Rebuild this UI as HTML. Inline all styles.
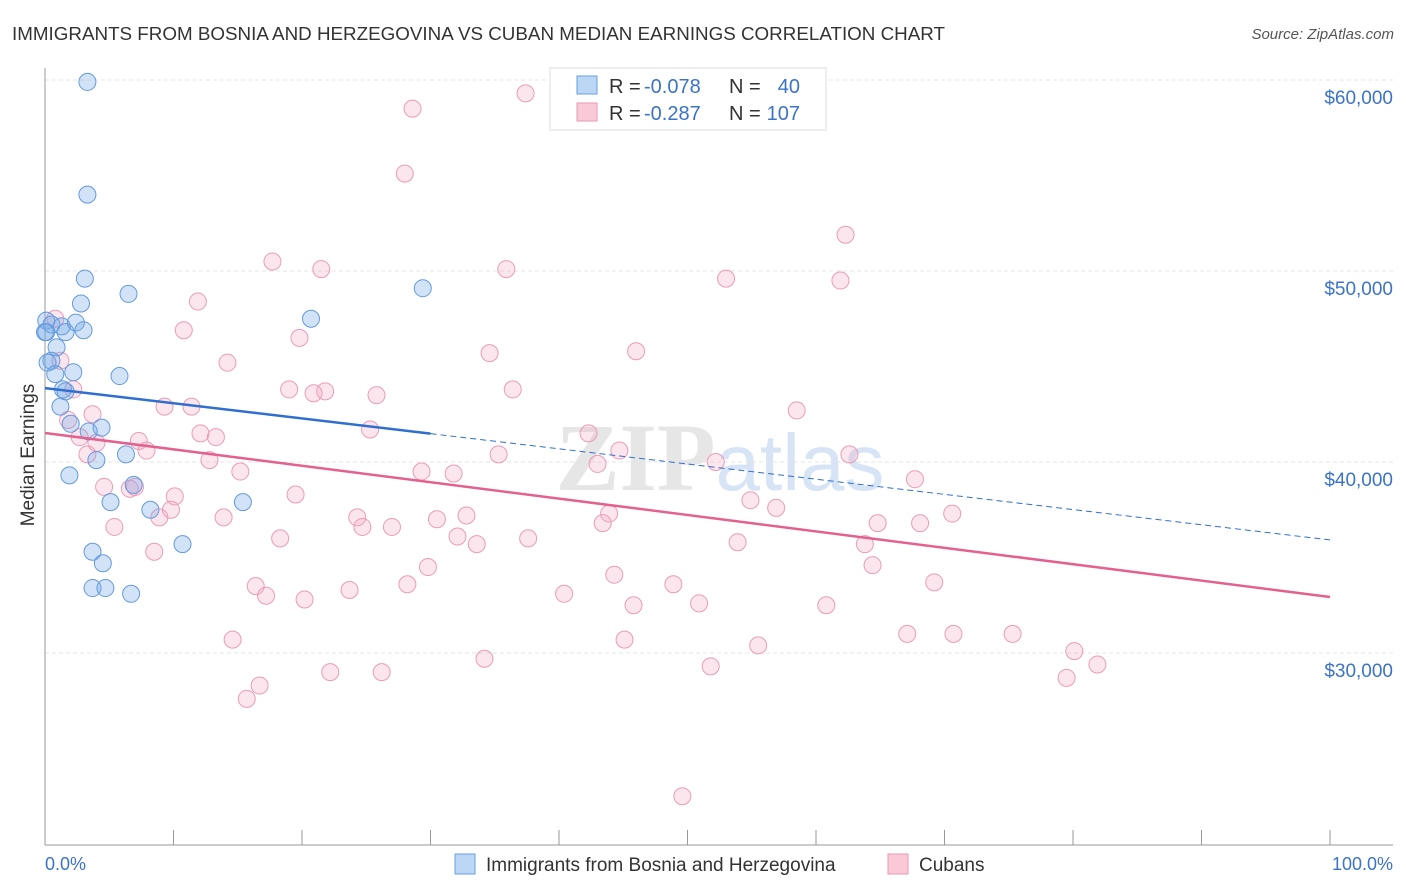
<!DOCTYPE html>
<html><head><meta charset="utf-8">
<style>
body{margin:0;background:#fff;font-family:"Liberation Sans",sans-serif;}
svg{display:block}
</style></head><body>
<svg id="chart" width="1406" height="892">
<text x="12" y="40" font-size="18.8" fill="#333" textLength="933">IMMIGRANTS FROM BOSNIA AND HERZEGOVINA VS CUBAN MEDIAN EARNINGS CORRELATION CHART</text>
<text x="1394" y="39" font-size="15" fill="#555" font-style="italic" text-anchor="end">Source: ZipAtlas.com</text>
<text x="720" y="490" font-size="96" fill="#e6e6e6" text-anchor="middle" font-weight="bold" font-family="Liberation Serif,serif">ZIP<tspan fill="#d6e4f5" font-family="Liberation Sans,sans-serif" font-weight="normal" font-size="80">atlas</tspan></text>
<g id="grid"></g>
<g id="pts"></g>
<g id="lines"></g>
<text x="34" y="455" font-size="19" fill="#333" text-anchor="middle" transform="rotate(-90 34 455)">Median Earnings</text>
<text x="45" y="870" font-size="18" fill="#3b73c9">0.0%</text>
<text x="1393" y="870" font-size="18" fill="#3b73c9" text-anchor="end">100.0%</text>
<g>
<rect x="550" y="68" width="276" height="62" fill="#fff" stroke="#ddd"/>
<rect x="577" y="76" width="20" height="18" fill="#bcd6f5" stroke="#6aa0e0"/>
<rect x="577" y="103" width="20" height="18" fill="#f9c9d8" stroke="#e99ab3"/>
<text x="609" y="93" font-size="20" fill="#333">R = </text>
<text x="644" y="93" font-size="20" fill="#3b73c9">-0.078</text>
<text x="729" y="93" font-size="20" fill="#333">N =</text>
<text x="800" y="93" font-size="20" fill="#3b73c9" text-anchor="end">40</text>
<text x="609" y="120" font-size="20" fill="#333">R = </text>
<text x="644" y="120" font-size="20" fill="#3b73c9">-0.287</text>
<text x="729" y="120" font-size="20" fill="#333">N =</text>
<text x="800" y="120" font-size="20" fill="#3b73c9" text-anchor="end">107</text>
</g>
<g>
<rect x="455" y="854" width="20" height="20" fill="#bcd6f5" stroke="#6aa0e0"/>
<text x="486" y="871" font-size="19" fill="#333">Immigrants from Bosnia and Herzegovina</text>
<rect x="888" y="854" width="20" height="20" fill="#f9c9d8" stroke="#e99ab3"/>
<text x="919" y="871" font-size="19" fill="#333">Cubans</text>
</g>
</svg>
<script>
const yTicks=[30000,40000,50000,60000];
const yTickLabels=["$30,000","$40,000","$50,000","$60,000"];
const blueX=[3.3,3.3,3.1,2.8,6.5,20.7,29.4,0.1,0.5,1.3,2.4,3.0,1.6,0,0.9,0.5,2.2,5.8,1.4,1.2,2.0,4.4,3.4,4.0,6.3,1.9,5.1,6.9,8.2,15.4,3.7,4.5,10.7,3.7,4.7,6.7,0.1,0.2,0.8,1.6];
const blueY=[59.9,54.0,49.6,48.3,48.8,47.5,49.1,47.4,47.2,47.1,47.3,46.9,46.8,46.8,46.0,45.3,44.7,44.5,43.8,42.9,42.0,41.8,41.6,40.1,40.4,39.3,37.9,38.8,37.5,37.9,35.3,34.7,35.7,33.4,33.4,33.1,46.8,45.2,44.6,43.7];
const pinkX=[37.4,28.6,28.0,62.3,17.7,21.5,35.9,53.0,61.9,11.9,0.8,10.8,19.8,34.6,46.0,14.2,1.2,2.2,19.0,21.8,20.9,25.8,36.4,9.3,11.4,3.7,58.5,1.8,2.7,12.1,13.3,25.3,7.3,7.9,42.3,44.7,4.0,3.3,12.8,35.3,62.6,43.0,52.2,15.2,4.6,6.6,7.0,10.1,19.5,29.3,31.8,67.7,54.9,56.9,70.6,8.9,13.9,9.8,24.3,24.7,30.5,32.8,27.0,5.4,18.3,32.1,33.6,37.6,43.4,43.9,53.9,63.8,64.8,68.1,8.5,29.8,44.3,48.9,16.4,28.2,23.7,17.2,20.2,40.4,45.8,50.9,60.8,64.4,69.2,14.6,45.1,55.5,67.1,70.7,75.3,80.1,34.2,51.8,22.2,26.2,81.9,79.5,16.7,15.7,49.6];
const pinkY=[59.3,58.5,55.1,51.9,50.5,50.1,50.1,49.6,49.5,48.4,47.5,46.9,46.5,45.7,45.8,45.2,45.3,43.8,43.8,43.7,43.6,43.5,43.8,42.9,42.9,42.5,42.7,42.2,41.3,41.5,41.3,41.7,41.1,40.6,41.5,40.6,41.0,40.4,40.1,40.4,40.4,39.9,40.0,39.5,38.7,38.6,38.7,38.2,38.3,39.5,39.4,39.1,38.0,37.6,37.3,37.1,37.1,37.5,37.1,36.6,37.0,37.2,36.6,36.6,36.0,36.1,35.7,36.0,36.8,37.3,35.8,35.7,36.8,36.8,35.3,34.5,34.1,33.6,33.5,33.6,33.3,33.0,32.8,33.1,32.5,32.6,32.5,34.6,33.7,30.7,30.7,30.4,31.0,31.0,31.0,30.1,29.7,29.3,29.0,29.0,29.4,28.7,28.3,27.6,22.5];
const blueTrend=[43.87,35.92];
const pinkTrend=[41.52,32.93];
const NS="http://www.w3.org/2000/svg";
const sx=p=>45+p*12.85;
const sy=v=>80+(60-v)*19.1;
function mk(tag,attrs,parent){const e=document.createElementNS(NS,tag);for(const k in attrs)e.setAttribute(k,attrs[k]);parent.appendChild(e);return e;}
const grid=document.getElementById('grid');
yTicks.forEach((t,i)=>{const y=sy(t/1000);
const l=mk('line',{x1:45,x2:1393,y1:y,y2:y,stroke:'#e4e4e4','stroke-dasharray':'4,3'},grid);


const tx=mk('text',{x:1393,y:y+24,'font-size':19,fill:'#3b73c9','text-anchor':'end'},grid);
tx.textContent=yTickLabels[i];


});
const ax=mk('line',{x1:45,x2:45,y1:68,y2:845,stroke:'#999'},grid);


const bx=mk('line',{x1:45,x2:1393,y1:845,y2:845,stroke:'#999'},grid);


for(let i=0;i<=10;i++){const x=sx(i*10);
const t=mk('line',{x1:x,x2:x,y1:830,y2:845,stroke:'#999'},grid);

}
const pts=document.getElementById('pts');
pinkX.forEach((x,i)=>{const c=mk('circle',{cx:sx(x),cy:sy(pinkY[i]),r:8.5,fill:'rgba(243,165,195,0.28)',stroke:'#eb9bb7','stroke-width':1},pts);

});
blueX.forEach((x,i)=>{const c=mk('circle',{cx:sx(x),cy:sy(blueY[i]),r:8.5,fill:'rgba(115,168,230,0.32)',stroke:'#639ade','stroke-width':1},pts);

});
const lines=document.getElementById('lines');
const bAt=p=>blueTrend[0]+(blueTrend[1]-blueTrend[0])*p/100;
const pAt=p=>pinkTrend[0]+(pinkTrend[1]-pinkTrend[0])*p/100;
const b1=mk('line',{x1:sx(0),y1:sy(bAt(0)),x2:sx(30),y2:sy(bAt(30)),stroke:'#2f6fd0','stroke-width':2.5},lines);


const b2=mk('line',{x1:sx(30),y1:sy(bAt(30)),x2:sx(100),y2:sy(bAt(100)),stroke:'#2f6fd0','stroke-width':1,'stroke-dasharray':'6,4'},lines);


const p1=mk('line',{x1:sx(0),y1:sy(pAt(0)),x2:sx(100),y2:sy(pAt(100)),stroke:'#e4608e','stroke-width':2.5},lines);


</script>
</body></html>
